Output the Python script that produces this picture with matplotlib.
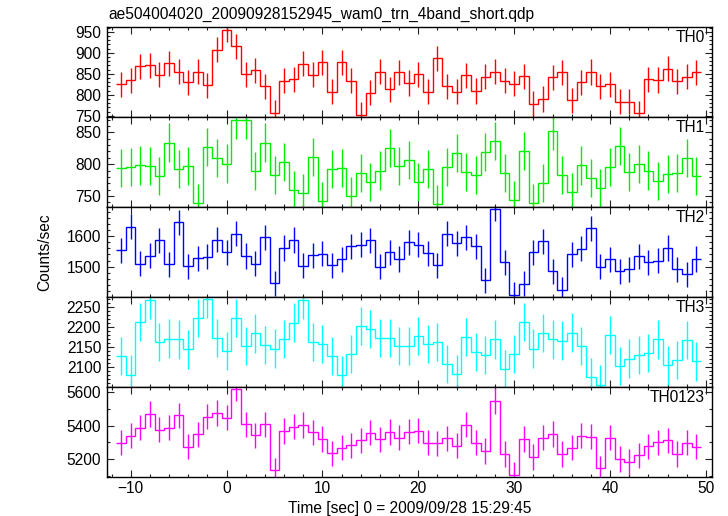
import numpy as np
import matplotlib
matplotlib.use("Agg")
import matplotlib.pyplot as plt
from matplotlib.ticker import MultipleLocator

plt.rcParams['font.family'] = ['Liberation Sans', 'DejaVu Sans']

# bin centres [sec], 1 s bins
tiempo = np.arange(-11, 50)

th0 = [825, 834, 868, 870, 848, 875, 855, 830, 855, 822, 907, 955, 915, 849, 858, 820,
       757, 833, 837, 874, 848, 877, 807, 877, 833, 752, 805, 855, 813, 853, 828, 849,
       807, 887, 820, 807, 846, 809, 843, 855, 833, 826, 844, 779, 790, 841, 853, 787,
       830, 854, 820, 825, 783, 783, 756, 837, 835, 862, 832, 843, 853]
th1 = [794, 796, 798, 797, 781, 834, 792, 797, 739, 827, 810, 801, 870, 869, 789, 834,
       783, 803, 759, 755, 811, 742, 792, 794, 750, 786, 772, 790, 826, 797, 807, 772,
       793, 737, 795, 817, 788, 783, 819, 837, 786, 743, 821, 739, 770, 852, 783, 756,
       798, 778, 763, 795, 829, 788, 800, 790, 774, 785, 786, 810, 781]
th2 = [1554, 1630, 1509, 1536, 1586, 1508, 1645, 1501, 1527, 1532, 1588, 1547, 1608, 1535, 1510, 1596,
       1446, 1561, 1587, 1503, 1537, 1542, 1505, 1524, 1566, 1571, 1586, 1500, 1547, 1525, 1579, 1571,
       1544, 1504, 1607, 1577, 1596, 1566, 1455, 1690, 1515, 1409, 1444, 1547, 1583, 1485, 1424, 1541,
       1559, 1626, 1500, 1524, 1485, 1491, 1534, 1515, 1519, 1561, 1491, 1475, 1525]
th3 = [2128, 2082, 2213, 2268, 2163, 2172, 2170, 2145, 2223, 2271, 2173, 2141, 2223, 2153, 2185, 2156,
       2147, 2171, 2212, 2268, 2163, 2158, 2128, 2080, 2134, 2204, 2196, 2173, 2173, 2153, 2153, 2178,
       2159, 2163, 2108, 2083, 2176, 2138, 2131, 2170, 2096, 2133, 2213, 2147, 2186, 2170, 2167, 2187,
       2154, 2075, 2057, 2181, 2103, 2122, 2131, 2136, 2170, 2105, 2118, 2168, 2115]
th0123 = [5299, 5341, 5388, 5471, 5376, 5388, 5463, 5275, 5349, 5454, 5477, 5448, 5622, 5408, 5343, 5408,
          5133, 5368, 5394, 5404, 5360, 5321, 5234, 5269, 5283, 5313, 5358, 5319, 5362, 5329, 5364, 5370,
          5299, 5295, 5325, 5281, 5406, 5299, 5248, 5549, 5230, 5105, 5321, 5212, 5329, 5351, 5230, 5269,
          5341, 5335, 5145, 5329, 5200, 5184, 5222, 5277, 5301, 5313, 5230, 5299, 5275]

# typical 1-sigma error per band
errores = [30, 30, 41, 48, 76]

bandas = ["TH0", "TH1", "TH2", "TH3", "TH0123"]
series = [th0, th1, th2, th3, th0123]
colores = ["#ff0000", "#00ee00", "#0000ff", "#00ffff", "#ff00ff"]
limites_y = [(747.7, 962), (733.2, 874.6), (1402, 1696), (2051.7, 2276.7), (5095, 5634)]
paso_mayor = [50, 50, 100, 50, 200]
paso_menor = [10, 10, 20, 10, 100]

FS = 11.2

fig = plt.figure(figsize=(7.28, 5.16), dpi=100)
axes = fig.subplots(5, 1, sharex=True, gridspec_kw=dict(hspace=0))
fig.subplots_adjust(left=0.1466, right=0.9776, bottom=0.0762, top=0.9483)

bordes = np.append(tiempo - 0.5, tiempo[-1] + 0.5)

for ax, banda, y, err, c, lim, M, m in zip(axes, bandas, series, errores, colores,
                                            limites_y, paso_mayor, paso_menor):
    ax.stairs(y, bordes, baseline=None, color=c, linewidth=1.0)
    ax.errorbar(tiempo, y, yerr=err, fmt='none', ecolor=c, elinewidth=1.0)
    ax.set_ylim(*lim)
    ax.set_xlim(-12.5, 50.6)
    ax.yaxis.set_major_locator(MultipleLocator(M))
    ax.yaxis.set_minor_locator(MultipleLocator(m))
    ax.xaxis.set_major_locator(MultipleLocator(10))
    ax.xaxis.set_minor_locator(MultipleLocator(2))
    ax.tick_params(which='both', direction='in', top=True, right=True,
                   labelsize=FS, width=0.8, color='#222222')
    ax.tick_params(which='major', length=4.8, pad=4)
    ax.tick_params(which='minor', length=2.5)
    for s in ax.spines.values():
        s.set_linewidth(1.0)
    ax.text(0.988, 0.965, banda, transform=ax.transAxes, ha='right', va='top', fontsize=FS)

axes[-1].tick_params(axis='x', pad=3)
axes[-1].set_xlabel("Time [sec] 0 = 2009/09/28 15:29:45", fontsize=FS, labelpad=4)
fig.text(0.062, 0.512, "Counts/sec", rotation=90, ha='center', va='center', fontsize=FS)
fig.text(0.149, 1 - 19 / 516, "ae504004020_20090928152945_wam0_trn_4band_short.qdp",
         ha='left', va='baseline', fontsize=FS)

fig.savefig("out.png", dpi=100)
